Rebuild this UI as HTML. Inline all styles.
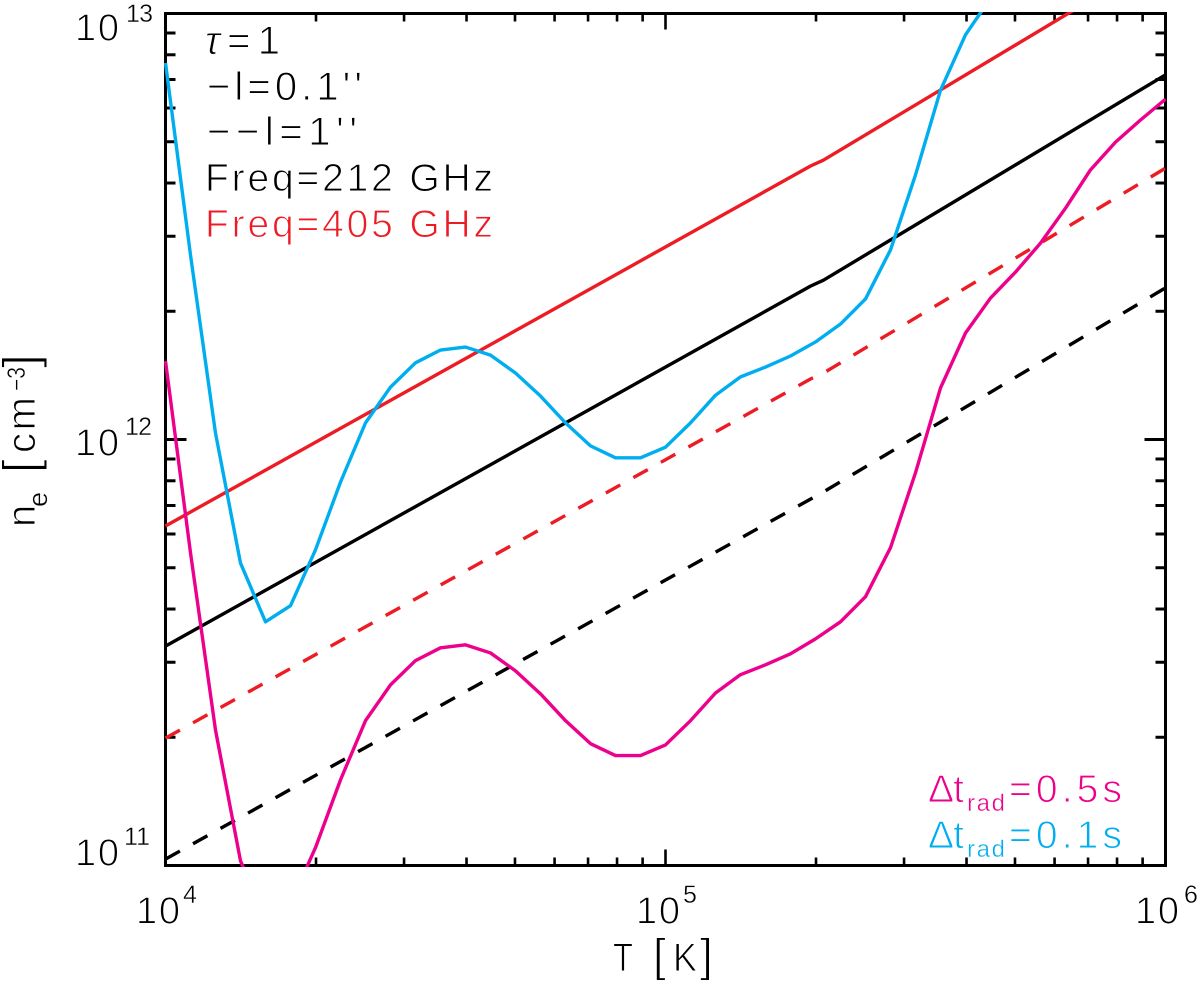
<!DOCTYPE html>
<html lang="en">
<head>
<meta charset="utf-8">
<title>Electron density versus temperature</title>
<style>
  html, body { margin: 0; padding: 0; background: #fff; }
  svg { display: block; }
  text { font-family: "Liberation Sans", "DejaVu Sans", sans-serif; stroke: #fff; stroke-width: 1px; }
  text.sup { stroke-width: 0.4px; }
  .tick { stroke: #000; stroke-linecap: butt; }
  .series { fill: none; stroke-width: 3.4; stroke-linejoin: round; }
</style>
</head>
<body>
<svg id="chart" xmlns="http://www.w3.org/2000/svg" width="1200" height="987" viewBox="0 0 1200 987">
  <defs>
    <clipPath id="plot-clip"><rect x="164" y="12" width="1003.5" height="855"></rect></clipPath>
  </defs>
  <rect x="0" y="0" width="1200" height="987" fill="#fff"></rect>
  <g id="ticks"></g>
  <rect x="165.5" y="13.5" width="1000" height="852" fill="none" stroke="#000" stroke-width="3"></rect>
  <g id="lines" clip-path="url(#plot-clip)"></g>

  <g>
    <text x="75" y="40.5" font-size="38" textLength="44">10</text>
    <text class="sup" x="126" y="22" font-size="25" textLength="27">13</text>
    <text x="75" y="455.5" font-size="38" textLength="44">10</text>
    <text class="sup" x="125" y="435" font-size="25" textLength="27">12</text>
    <text x="75" y="865.5" font-size="38" textLength="44">10</text>
    <text class="sup" x="124" y="845" font-size="25" textLength="26">11</text>
  </g>
  <g>
    <text x="136" y="923.5" font-size="38" textLength="44">10</text>
    <text class="sup" x="183" y="903" font-size="25">4</text>
    <text x="636" y="923.5" font-size="38" textLength="44">10</text>
    <text class="sup" x="683" y="903" font-size="25">5</text>
    <text x="1135" y="923.5" font-size="38" textLength="44">10</text>
    <text class="sup" x="1184" y="903" font-size="25">6</text>
  </g>

  <g>
    <text x="613" y="971" font-size="40" textLength="20" lengthAdjust="spacingAndGlyphs">T</text>
    <text x="653" y="971" font-size="46">[</text>
    <text x="673" y="971" font-size="40" textLength="24" lengthAdjust="spacingAndGlyphs">K</text>
    <text x="700" y="971" font-size="46">]</text>
  </g>
  <g>
    <text transform="translate(35,527) rotate(-90)" font-size="40">n</text>
    <text class="sup" transform="translate(47,507) rotate(-90)" font-size="27">e</text>
    <text transform="translate(37,473) rotate(-90)" font-size="49">[</text>
    <text transform="translate(35,453) rotate(-90)" font-size="40" textLength="56">cm</text>
    <text class="sup" transform="translate(25,391) rotate(-90)" font-size="25" textLength="24" lengthAdjust="spacingAndGlyphs">−3</text>
    <text transform="translate(37,368) rotate(-90)" font-size="49">]</text>
  </g>

  <g>
    <text x="205" y="54" font-size="40" textLength="75"><tspan font-style="italic">τ</tspan>=1</text>
    <text x="207" y="100" font-size="40" textLength="155">−l=0.1''</text>
    <text x="207" y="145" font-size="40" textLength="150">−−l=1''</text>
    <text x="205" y="191" font-size="39" textLength="288" fill="#000">Freq=212 GHz</text>
    <text x="205" y="237" font-size="39" textLength="288" fill="#ed1c24">Freq=405 GHz</text>
  </g>
  <g>
    <text x="928" y="802" font-size="39" textLength="36" fill="#ec008c">Δt</text>
    <text class="sup" x="967" y="811" font-size="24" textLength="38" fill="#ec008c">rad</text>
    <text x="1009" y="802" font-size="39" textLength="113" fill="#ec008c">=0.5s</text>
    <text x="928" y="848" font-size="39" textLength="36" fill="#00aeef">Δt</text>
    <text class="sup" x="967" y="857" font-size="24" textLength="38" fill="#00aeef">rad</text>
    <text x="1009" y="848" font-size="39" textLength="113" fill="#00aeef">=0.1s</text>
  </g>
</svg>
<script>
// log10(T [K]) sampling of the radiative-timescale curves
var logTemperature = [4.00,4.05,4.10,4.15,4.20,4.25,4.30,4.35,4.40,4.45,4.50,4.55,4.60,4.65,4.70,4.75,4.80,4.85,4.90,4.95,5.00,5.05,5.10,5.15,5.20,5.25,5.30,5.35,5.40,5.45,5.50,5.55,5.60,5.65,5.70,5.75,5.80,5.85,5.90,5.95,6.00];
// log10(ne [cm^-3])
var logNeDt01 = [12.884,12.433,12.015,11.710,11.572,11.610,11.741,11.900,12.039,12.123,12.180,12.210,12.217,12.198,12.156,12.102,12.039,11.985,11.957,11.957,11.982,12.039,12.104,12.147,12.170,12.196,12.229,12.271,12.330,12.445,12.621,12.820,12.950,13.036];
var logNeDt05 = [12.184,11.734,11.318,11.011,10.873,10.911,11.042,11.201,11.340,11.424,11.481,11.511,11.518,11.499,11.457,11.403,11.340,11.286,11.258,11.258,11.283,11.340,11.405,11.448,11.471,11.497,11.532,11.572,11.631,11.746,11.922,12.121,12.250,12.332,12.393,12.461,12.543,12.633,12.698,12.750,12.799];
// tau=1 curves have a small step near T = 2e5 K
var logTemperatureTau = [4.00,5.29,5.316,6.00];
var logNe212Short = [11.515,12.360,12.374,12.856];
var logNe405Short = [11.797,12.642,12.656,13.137];
var logNe212Long = [11.015,11.860,11.877,12.356];
var logNe405Long = [11.299,12.142,12.156,12.637];
// tick positions (decade + multiplier)
var xDecades = [4,5];
var yDecades = [11,12];
var minorMultipliers = [2,3,4,5,6,7,8,9];

var NS = 'http://www.w3.org/2000/svg';
function xScale(logT) { return 165.5 + (logT - 4) * 500; }
function yScale(logN) { return 865.5 - (logN - 11) * 426; }

function addTick(parent, x1, y1, x2, y2, width) {
  var t = document.createElementNS(NS, 'line');
  
  
  t.setAttribute('class', 'tick');
  t.setAttribute('x1', x1);
  t.setAttribute('y1', y1);
  t.setAttribute('x2', x2);
  t.setAttribute('y2', y2);
  t.setAttribute('stroke-width', width);
  parent.appendChild(t);
}

var tickGroup = document.getElementById('ticks');
function addXTicks(logT, len) {
  var x = xScale(logT);
  addTick(tickGroup, x, 865.5, x, 865.5 - len, 2.6);
  addTick(tickGroup, x, 13.5, x, 13.5 + len, 2.6);
}
function addYTicks(logN, len) {
  var y = yScale(logN);
  addTick(tickGroup, 165.5, y, 165.5 + len, y, 3);
  addTick(tickGroup, 1165.5, y, 1165.5 - len, y, 3);
}
xDecades.forEach(function (d, i) {
  if (i > 0) addXTicks(d, 16);
  minorMultipliers.forEach(function (m) { addXTicks(d + Math.log10(m), 8); });
});
yDecades.forEach(function (d, i) {
  if (i > 0) addYTicks(d, 21);
  minorMultipliers.forEach(function (m) { addYTicks(d + Math.log10(m), 10); });
});

var lineGroup = document.getElementById('lines');
function addSeries(name, xs, ys, color, dash) {
  var pts = ys.map(function (v, i) { return xScale(xs[i]).toFixed(2) + ',' + yScale(v).toFixed(2); }).join(' ');
  var p = document.createElementNS(NS, 'polyline');
  
  
  p.setAttribute('class', 'series');
  p.setAttribute('points', pts);
  p.setAttribute('stroke', color);
  if (dash) p.setAttribute('stroke-dasharray', dash);
  lineGroup.appendChild(p);
}
addSeries('line-212ghz-l1', logTemperatureTau, logNe212Long, '#000000', '16.5 15');
addSeries('line-405ghz-l1', logTemperatureTau, logNe405Long, '#ed1c24', '16.5 15');
addSeries('line-212ghz-l01', logTemperatureTau, logNe212Short, '#000000', null);
addSeries('line-405ghz-l01', logTemperatureTau, logNe405Short, '#ed1c24', null);
addSeries('curve-dt-0.1s', logTemperature, logNeDt01, '#00aeef', null);
addSeries('curve-dt-0.5s', logTemperature, logNeDt05, '#ec008c', null);
</script>
</body>
</html>
